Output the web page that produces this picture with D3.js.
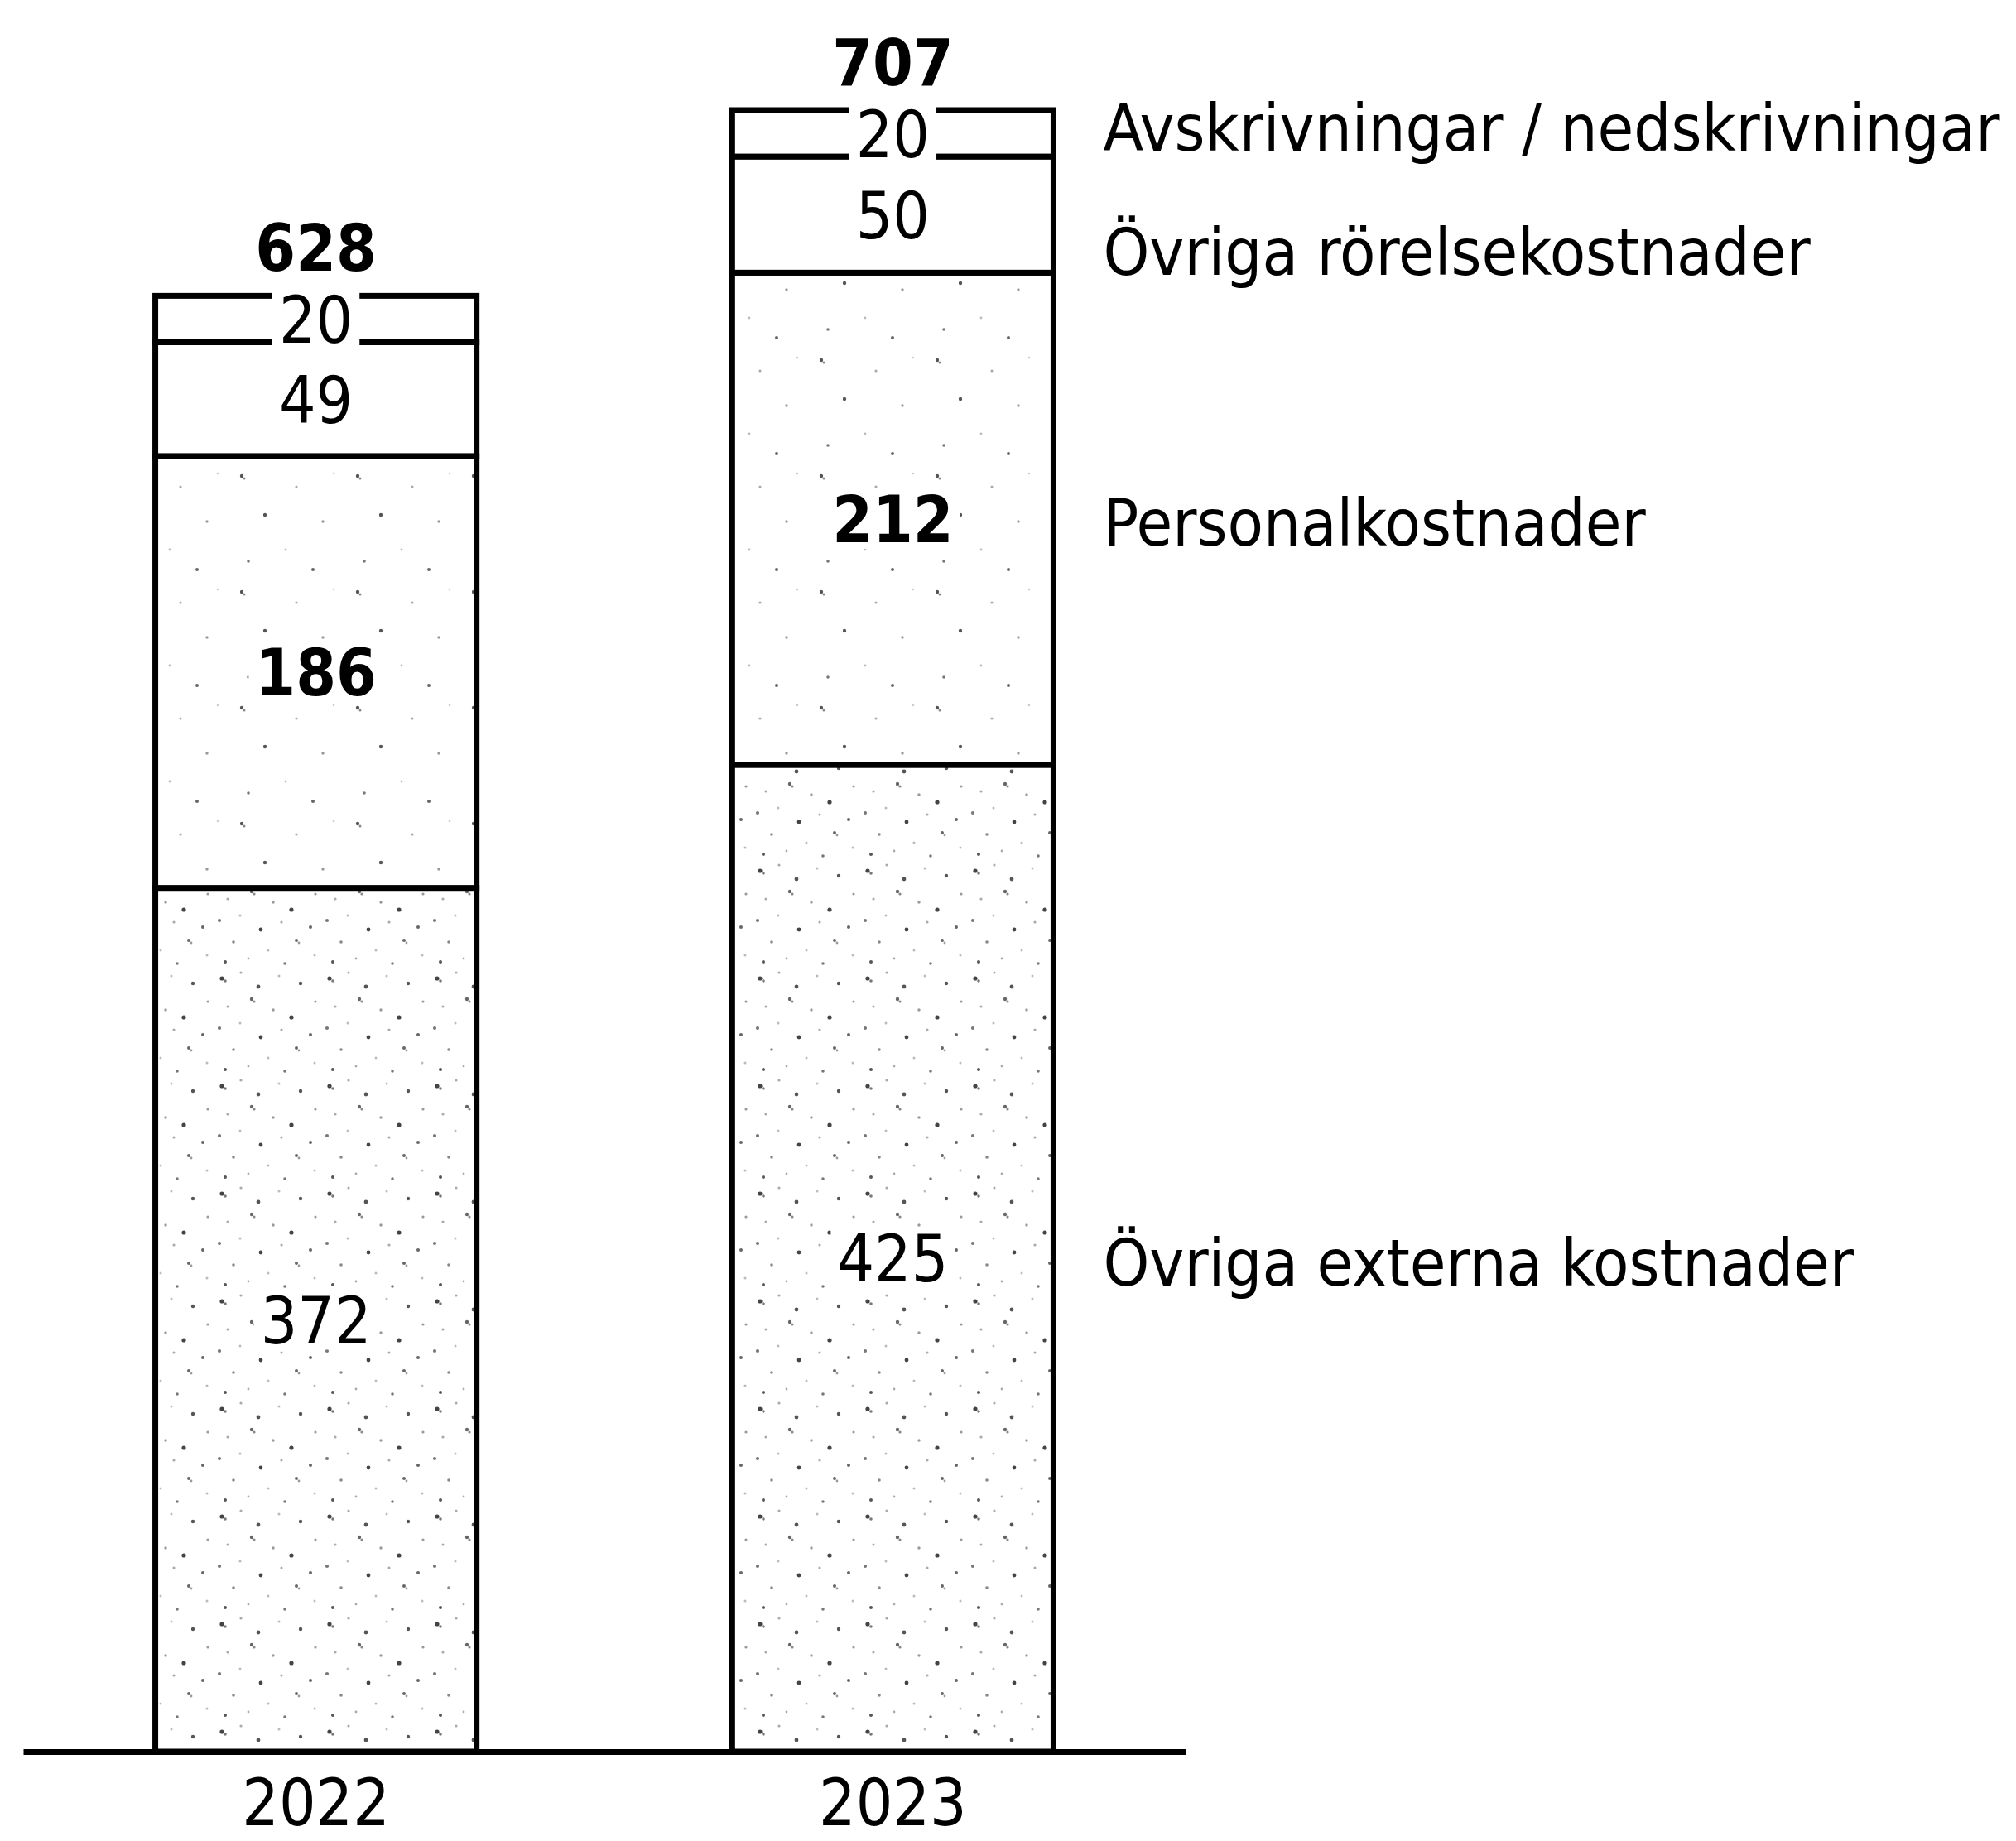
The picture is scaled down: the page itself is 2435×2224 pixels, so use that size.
<!DOCTYPE html>
<html>
<head>
<meta charset="utf-8">
<script src="https://cdn.jsdelivr.net/npm/d3@7"></script>
<style>
  html, body { margin: 0; padding: 0; background: #fff; }
  svg { display: block; }
  text { font-family: "DejaVu Sans Condensed", "DejaVu Sans", sans-serif; font-stretch: condensed; fill: #000; }
</style>
</head>
<body>
<svg id="chart" width="2435" height="2224"></svg>
<script>
// ---- data ----
const years = ["2022", "2023"];
const categories = ["Övriga externa kostnader", "Personalkostnader", "Övriga rörelsekostnader", "Avskrivningar / nedskrivningar"];
const externaKostnader = [372, 425];
const personalKostnader = [186, 212];
const rorelseKostnader = [49, 50];
const avskrivningar = [20, 20];
const totals = [628, 707];

// ---- build table ----
const seriesValues = [externaKostnader, personalKostnader, rorelseKostnader, avskrivningar];
const table = years.map((yr, i) => {
  const row = { year: yr };
  categories.forEach((c, k) => { row[c] = seriesValues[k][i]; });
  return row;
});
const stacked = d3.stack().keys(categories)(table);

// ---- layout ----
const W = 2435, H = 2224;
const svg = d3.select("#chart");
svg.append("rect").attr("width", W).attr("height", H).attr("fill", "#fff");

const x = d3.scaleBand().domain(years).range([28, 1432]).paddingInner(0.443).paddingOuter(0.229);
const y = d3.scaleLinear().domain([0, 707]).range([2116, 133]);

const FS = 78;
const boldCats = new Set(["Personalkostnader"]);

// speckle patterns (scan texture)
const defs = svg.append("defs");
function makePattern(id, size, dots) {
  const p = defs.append("pattern").attr("id", id).attr("patternUnits", "userSpaceOnUse")
    .attr("width", size).attr("height", size);
  p.append("rect").attr("width", size).attr("height", size).attr("fill", "#fff");
  dots.forEach(d => {
    p.append("circle").attr("cx", d[0]).attr("cy", d[1]).attr("r", d[2]).attr("fill", d[3]);
  });
}
makePattern("denseSpeckle", 130, [
  [8, 12, 2.6, "#444"], [12, 15, 1.8, "#777"], [31, 5, 1.6, "#aaa"], [52, 22, 2.4, "#555"],
  [77, 9, 1.5, "#bbb"], [103, 18, 2.2, "#555"], [121, 40, 1.6, "#999"],
  [15, 46, 1.6, "#aaa"], [44, 37, 2.2, "#666"], [47, 40, 1.6, "#888"], [70, 50, 1.7, "#999"], [92, 59, 2.6, "#444"],
  [5, 72, 2.1, "#777"], [30, 66, 1.5, "#bbb"], [55, 83, 2.4, "#444"], [80, 74, 1.6, "#aaa"], [115, 80, 2.0, "#666"],
  [22, 98, 1.8, "#888"], [64, 108, 1.5, "#bbb"], [98, 96, 2.0, "#666"], [101, 99, 1.4, "#999"],
  [12, 122, 2.0, "#555"], [40, 118, 1.4, "#aaa"], [84, 124, 1.8, "#777"], [120, 114, 1.5, "#bbb"]
]);
makePattern("lightSpeckle", 140, [
  [12, 15, 2.2, "#555"], [15, 18, 1.5, "#888"], [78, 28, 1.6, "#aaa"], [40, 62, 2.2, "#555"],
  [110, 70, 1.7, "#999"], [65, 104, 1.4, "#bbb"], [123, 12, 1.3, "#ccc"], [20, 118, 1.8, "#777"],
  [98, 128, 2.0, "#666"]
]);
const fills = {
  "Övriga externa kostnader": "url(#denseSpeckle)",
  "Personalkostnader": "url(#lightSpeckle)",
  "Övriga rörelsekostnader": "#fff",
  "Avskrivningar / nedskrivningar": "#fff"
};

// bars
const gBars = svg.append("g");
stacked.forEach(layer => {
  gBars.selectAll(null).data(layer).enter().append("rect")
    .attr("x", d => x(d.data.year))
    .attr("y", d => y(d[1]))
    .attr("width", x.bandwidth())
    .attr("height", d => y(d[0]) - y(d[1]))
    .attr("fill", fills[layer.key])
    .attr("stroke", "#000")
    .attr("stroke-width", 7);
});

// segment labels with white backing
const gLab = svg.append("g");
stacked.forEach(layer => {
  layer.forEach(d => {
    const cx = x(d.data.year) + x.bandwidth() / 2;
    const cy = (y(d[0]) + y(d[1])) / 2;
    const g = gLab.append("g");
    const t = g.append("text")
      .attr("x", cx).attr("y", cy).attr("dy", "0.365em")
      .attr("text-anchor", "middle")
      .attr("font-size", FS)
      .attr("font-weight", boldCats.has(layer.key) ? "bold" : "normal")
      .text(d.data[layer.key]);
    const bb = t.node().getBBox();
    g.insert("rect", "text")
      .attr("x", bb.x - 8).attr("y", cy - 36)
      .attr("width", bb.width + 16).attr("height", 72)
      .attr("fill", "#fff");
  });
});

// totals
svg.append("g").selectAll("text").data(years).enter().append("text")
  .attr("x", d => x(d) + x.bandwidth() / 2)
  .attr("y", (d, i) => y(d3.sum(seriesValues, s => s[i])) - 30)
  .attr("text-anchor", "middle")
  .attr("font-size", FS)
  .attr("font-weight", "bold")
  .text((d, i) => totals[i]);

// legend-style labels beside the 2023 bar
const lastIdx = years.length - 1;
const legendNudge = { "Övriga externa kostnader": 4, "Personalkostnader": 4, "Övriga rörelsekostnader": 44, "Avskrivningar / nedskrivningar": -8 };
const legendX = x(years[lastIdx]) + x.bandwidth() + 60;
stacked.forEach(layer => {
  const d = layer[lastIdx];
  svg.append("text")
    .attr("x", legendX)
    .attr("y", (y(d[0]) + y(d[1])) / 2 + legendNudge[layer.key])
    .attr("dy", "0.365em")
    .attr("font-size", 79)
    .text(layer.key);
});

// axis
const axis = d3.axisBottom(x).tickSize(0).tickSizeOuter(0).tickPadding(34);
const gAxis = svg.append("g").attr("transform", `translate(0,${y(0)})`).call(axis);
gAxis.select(".domain").attr("stroke", "#000").attr("stroke-width", 7);
gAxis.selectAll("text")
  .attr("font-size", FS)
  .attr("fill", "#000")
  .style("font-family", "\"DejaVu Sans Condensed\", \"DejaVu Sans\", sans-serif");
</script>
</body>
</html>
